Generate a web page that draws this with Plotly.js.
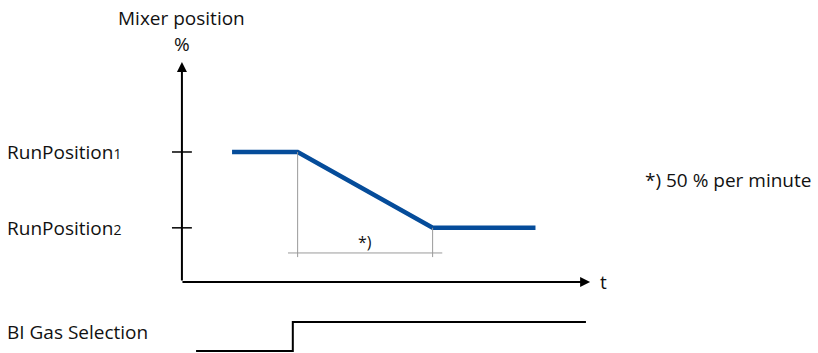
<!DOCTYPE html>
<html>
<head>
<meta charset="utf-8">
<script src="https://cdn.plot.ly/plotly-3.0.1.min.js"></script>
<style>html,body{margin:0;padding:0;background:#fff;}#chart{width:818px;height:353px;}</style>
</head>
<body>
<div id="chart"></div>
<script>
// ---- data (time in s, mixer position in %) ----
const mixerTime = [15.6, 36, 78, 110];
const mixerPct = [60, 60, 25, 25];
const levelNames = ['RunPosition<span style="font-size:14px">1</span>', 'RunPosition<span style="font-size:14px">2</span>'];
const levelValues = [60, 25];
const gasTime = [4.4, 34.5, 125.7];
const gasState = [0, 1, 1];
const rampNote = '*) 50 % per minute';
const rampMark = '*)';
const yTitle = 'Mixer position';
const yUnit = '%';
const xTitle = 't';
const signalName = 'BI Gas Selection';

// ---- layout constants ----
const yAxisTop = 101.5, xAxisEnd = 127;
const bracketLow = 11.5, bracketY = 13.4, bracketExt = 3;
const FONT = 'Open Sans, sans-serif';
const fs = 19;

const traces = [
  {x: mixerTime, y: mixerPct, type: 'scatter', mode: 'lines',
   line: {color: '#054c9a', width: 4.5}, hoverinfo: 'skip', yaxis: 'y'},
  {x: gasTime, y: gasState, type: 'scatter', mode: 'lines',
   line: {color: '#000', width: 2, shape: 'hv'}, hoverinfo: 'skip', yaxis: 'y2'}
];

const shapes = [];
levelValues.forEach(v => shapes.push({type: 'line', xref: 'x', yref: 'y',
  x0: -3.1, x1: 3.1, y0: v, y1: v, line: {color: '#000', width: 1.5}}));
[1, 2].forEach(i => shapes.push({type: 'line', xref: 'x', yref: 'y',
  x0: mixerTime[i], x1: mixerTime[i], y0: mixerPct[i], y1: bracketLow,
  line: {color: '#9a9a9a', width: 1}}));
shapes.push({type: 'line', xref: 'x', yref: 'y',
  x0: mixerTime[1] - bracketExt, x1: mixerTime[2] + bracketExt, y0: bracketY, y1: bracketY,
  line: {color: '#9a9a9a', width: 1}});

const annotations = [
  // axes with arrows
  {x: 0, y: yAxisTop, ax: 0, ay: 0, xref: 'x', yref: 'y', axref: 'x', ayref: 'y',
   text: '', showarrow: true, arrowhead: 2, arrowsize: 1, arrowwidth: 2, arrowcolor: '#000'},
  {x: xAxisEnd, y: 0, ax: -0.3, ay: 0, xref: 'x', yref: 'y', axref: 'x', ayref: 'y',
   text: '', showarrow: true, arrowhead: 2, arrowsize: 1, arrowwidth: 2, arrowcolor: '#000'},
  {x: 0, y: 121.8, xref: 'x', yref: 'y', text: yTitle, showarrow: false,
   font: {family: FONT, size: fs, color: '#111'}},
  {x: 0, y: 109.8, xref: 'x', yref: 'y', text: yUnit, showarrow: false,
   font: {family: FONT, size: fs, color: '#111'}},
  {x: xAxisEnd + 2.6, y: 0, xref: 'x', yref: 'y', text: xTitle, showarrow: false, xanchor: 'left',
   font: {family: FONT, size: fs, color: '#111'}},
  {x: (mixerTime[1] + mixerTime[2]) / 2, y: 18.5, xref: 'x', yref: 'y', text: rampMark, showarrow: false,
   font: {family: FONT, size: 16, color: '#111'}},
  {x: 643 / 818, y: 0.49, xref: 'paper', yref: 'paper', text: rampNote, showarrow: false, xanchor: 'left',
   font: {family: FONT, size: fs, color: '#111'}},
  {x: 5 / 818, y: 0.65, xref: 'paper', yref: 'y2', text: signalName, showarrow: false, xanchor: 'left',
   font: {family: FONT, size: fs, color: '#111'}}
];
levelValues.forEach((v, i) => annotations.push({x: 5 / 818, y: v, xref: 'paper', yref: 'y',
  text: levelNames[i], showarrow: false, xanchor: 'left', font: {family: FONT, size: fs, color: '#111'}}));

const layout = {
  width: 818, height: 353,
  margin: {l: 0, r: 0, t: 0, b: 0, pad: 0},
  paper_bgcolor: '#fff', plot_bgcolor: '#fff',
  showlegend: false,
  xaxis: {visible: false, range: [-56.6, 197.9], fixedrange: true},
  yaxis: {visible: false, range: [-32.77, 130.15], fixedrange: true},
  yaxis2: {visible: false, overlaying: 'y', range: [-0.069, 12.1], fixedrange: true},
  shapes: shapes,
  annotations: annotations
};

Plotly.newPlot('chart', traces, layout, {staticPlot: true, displayModeBar: false});
</script>
</body>
</html>
